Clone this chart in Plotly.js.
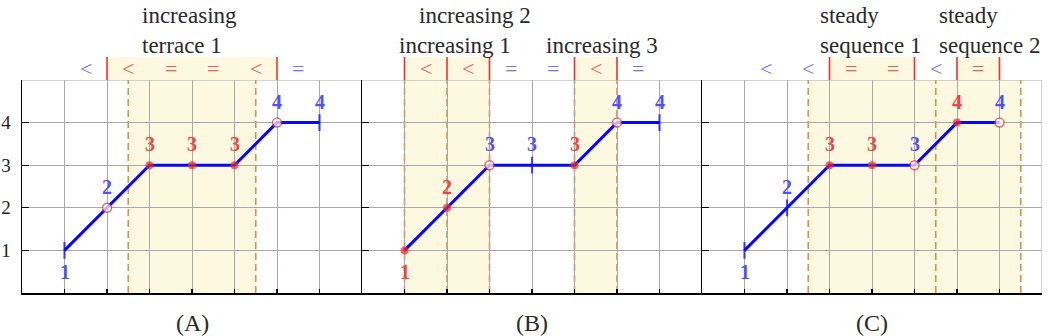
<!DOCTYPE html>
<html><head><meta charset="utf-8">
<script src="https://cdn.plot.ly/plotly-3.0.1.min.js"></script>
<style>html,body{margin:0;padding:0;background:#fff}#chart{width:1047px;height:336px}</style>
</head><body><div id="chart"></div>
<script>
// ---- data ----
const xVals = [1, 2, 3, 4, 5, 6, 7];
const yVals = [1, 2, 3, 3, 3, 4, 4];
const pointLabels = ['1', '2', '3', '3', '3', '4', '4'];
const labelSide = ['below', 'above', 'above', 'above', 'above', 'above', 'above'];
const panelNames = ['(A)', '(B)', '(C)'];
const yTicks = [0, 1, 2, 3, 4, 5];
const yTickText = ['', '1', '2', '3', '4', ''];

// marker kind per point: tick = blue bar, open = red open circle, dot = red filled dot
const markersA = ['tick', 'open', 'dot', 'dot', 'dot', 'open', 'tick'];
const markersB = ['dot', 'dot', 'open', 'tick', 'dot', 'open', 'tick'];
const markersC = ['tick', 'tick', 'dot', 'dot', 'open', 'dot', 'open'];
// label colour per point: b = blue, r = red
const labelColA = ['b', 'b', 'r', 'r', 'r', 'b', 'b'];
const labelColB = ['r', 'r', 'b', 'b', 'r', 'b', 'b'];
const labelColC = ['b', 'b', 'r', 'r', 'b', 'r', 'b'];

// relations between consecutive points
const relX = [1.5, 2.5, 3.5, 4.5, 5.5, 6.5];
const relations = ['<', '<', '=', '=', '<', '='];
const relColA = ['b', 'r', 'r', 'r', 'r', 'b'];
const relColB = ['r', 'r', 'b', 'b', 'r', 'b'];
const relColC = ['b', 'b', 'r', 'r', 'b', 'r'];

// shaded regions in the plot, and dashed boundaries
const shadeA = [[2.5, 5.5]];
const shadeB = [[1, 3], [5, 6]];
const shadeC = [[2.5, 7.5]];
const dashA = [2.5, 5.5];
const dashB = [1, 2, 3, 5, 6];
const dashC = [2.5, 5.5, 7.5];
// shaded regions in the top strip, and red boundaries
const stripA = [[2, 6]];
const stripB = [[1, 3], [5, 6]];
const stripC = [[3, 5], [6, 7]];
const redA = [2, 6];
const redB = [1, 2, 3, 5, 6];
const redC = [3, 5, 6, 7];

// pattern names: [text, x (left edge), row]
const namesA = [['increasing', 2.78, 0], ['terrace 1', 2.78, 1]];
const namesB = [['increasing 2', 1.29, 0], ['increasing 1', 0.82, 1], ['increasing 3', 4.28, 1]];
const namesC = [['steady', 2.73, 0], ['sequence 1', 2.73, 1], ['steady', 5.53, 0], ['sequence 2', 5.53, 1]];

// ---- style ----
const FONT = 'Liberation Serif, DejaVu Serif, serif';
const BLUE_LINE = '#0707f7';
const BLUE_TXT = '#5252ee';
const BLUE_REL = '#7474fa';
const RED_MK = '#f02a2a';
const RED_TXT = '#f04444';
const RED_REL = '#f45a5a';
const SHADE = '#fdf8e0';
const DASH = '#d4924e';
const GRID = '#a9a9a9';
const PLOT_TOP = 80, PLOT_BOT = 293, PLOT_H = 213;
const STRIP_TOP = 1 + 23 / PLOT_H;
const REL_Y = 1 + 12 / PLOT_H;
const ROW_Y = [(PLOT_BOT - 15) / PLOT_H, (PLOT_BOT - 45) / PLOT_H];

const panels = [
  {mk: markersA, lc: labelColA, rc: relColA, sh: shadeA, da: dashA, st: stripA, rd: redA, nm: namesA},
  {mk: markersB, lc: labelColB, rc: relColB, sh: shadeB, da: dashB, st: stripB, rd: redB, nm: namesB},
  {mk: markersC, lc: labelColC, rc: relColC, sh: shadeC, da: dashC, st: stripC, rd: redC, nm: namesC}
];

const traces = [];
const shapes = [];
const annotations = [];
const layout = {
  width: 1047, height: 336,
  margin: {l: 22, r: 5, t: PLOT_TOP, b: 336 - PLOT_BOT},
  paper_bgcolor: '#fff', plot_bgcolor: 'rgba(0,0,0,0)',
  showlegend: false,
  font: {family: FONT, color: '#222'},
  shapes: shapes, annotations: annotations
};

panels.forEach((p, i) => {
  const sfx = i === 0 ? '' : String(i + 1);
  const xr = 'x' + sfx, yr = 'y' + sfx;
  layout['xaxis' + sfx] = {
    domain: [i / 3, (i + 1) / 3], anchor: yr, range: [0, 8],
    tickvals: xVals, showticklabels: false,
    showgrid: true, gridcolor: GRID, gridwidth: 1,
    showline: true, linecolor: '#000', linewidth: 1.5,
    ticks: 'inside', ticklen: 4, tickcolor: '#000', tickwidth: 1.2,
    zeroline: false, fixedrange: true
  };
  layout['yaxis' + sfx] = {
    domain: [0, 1], anchor: xr, range: [0, 5],
    tickvals: yTicks, ticktext: yTickText, showticklabels: i === 0,
    tickfont: {family: FONT, size: 19, color: '#222'}, ticklabelstandoff: 6,
    showgrid: true, gridcolor: GRID, gridwidth: 1,
    showline: true, linecolor: '#000', linewidth: 1.5,
    ticks: 'inside', ticklen: 7, tickcolor: '#000', tickwidth: 1.2,
    zeroline: false, fixedrange: true
  };

  // shaded regions
  p.sh.forEach(r => shapes.push({type: 'rect', xref: xr, yref: 'paper', x0: r[0], x1: r[1], y0: 0, y1: 1,
    fillcolor: SHADE, line: {width: 0}, layer: 'below'}));
  p.st.forEach(r => shapes.push({type: 'rect', xref: xr, yref: 'paper', x0: r[0], x1: r[1], y0: 1, y1: STRIP_TOP,
    fillcolor: SHADE, line: {width: 0}, layer: 'below'}));
  // top border and right border
  shapes.push({type: 'line', xref: xr, yref: yr, x0: 0, x1: 8, y0: 5, y1: 5, line: {color: GRID, width: 1}, layer: 'between'});
  if (i === 2) shapes.push({type: 'line', xref: xr, yref: yr, x0: 8, x1: 8, y0: 0, y1: 5, line: {color: GRID, width: 1}, layer: 'between'});
  // dashed boundaries
  p.da.forEach(x => shapes.push({type: 'line', xref: xr, yref: 'paper', x0: x, x1: x, y0: 0, y1: 1,
    line: {color: DASH, width: 1.6, dash: '7px,4px'}, layer: 'between'}));
  // red boundaries in the strip
  p.rd.forEach(x => shapes.push({type: 'line', xref: xr, yref: 'paper', x0: x, x1: x, y0: 1, y1: STRIP_TOP,
    line: {color: '#f03030', width: 1.6}, layer: 'above'}));

  // the sequence
  const sym = p.mk.map(k => k === 'tick' ? 'line-ns' : 'circle');
  const size = p.mk.map(k => k === 'tick' ? 12 : (k === 'open' ? 9 : 8));
  const col = p.mk.map(k => k === 'tick' ? BLUE_LINE : (k === 'open' ? '#ffffff' : RED_MK));
  const lcol = p.mk.map(k => k === 'tick' ? BLUE_LINE : RED_MK);
  const lw = p.mk.map(k => k === 'tick' ? 2.2 : (k === 'open' ? 1.5 : 0));
  traces.push({
    type: 'scatter', mode: 'lines+markers', x: xVals, y: yVals, xaxis: xr, yaxis: yr,
    line: {color: BLUE_LINE, width: 3},
    marker: {symbol: sym, size: size, color: col, line: {color: lcol, width: lw}},
    hoverinfo: 'skip', cliponaxis: false
  });

  // point labels
  xVals.forEach((x, j) => annotations.push({
    xref: xr, yref: yr, x: x, y: yVals[j], text: '<b>' + pointLabels[j] + '</b>', showarrow: false,
    yshift: labelSide[j] === 'above' ? 21 : -22,
    font: {family: FONT, size: 20, color: p.lc[j] === 'b' ? BLUE_TXT : RED_TXT}
  }));
  // relation symbols
  relX.forEach((x, j) => annotations.push({
    xref: xr, yref: 'paper', x: x, y: REL_Y, yanchor: 'middle', text: relations[j], showarrow: false,
    font: {family: FONT, size: 22, color: p.rc[j] === 'b' ? BLUE_REL : RED_REL}
  }));
  // pattern names
  p.nm.forEach(n => annotations.push({
    xref: xr, yref: 'paper', x: n[1], xanchor: 'left', y: ROW_Y[n[2]],
    yanchor: 'middle', text: n[0], showarrow: false,
    font: {family: FONT, size: 23, color: '#2a2a2a'}
  }));
  // panel caption
  annotations.push({xref: xr, yref: 'paper', x: 4, y: -30 / PLOT_H, yanchor: 'middle', text: panelNames[i],
    showarrow: false, font: {family: FONT, size: 24, color: '#2a2a2a'}});
});

Plotly.newPlot('chart', traces, layout, {staticPlot: true});
</script>
</body></html>
